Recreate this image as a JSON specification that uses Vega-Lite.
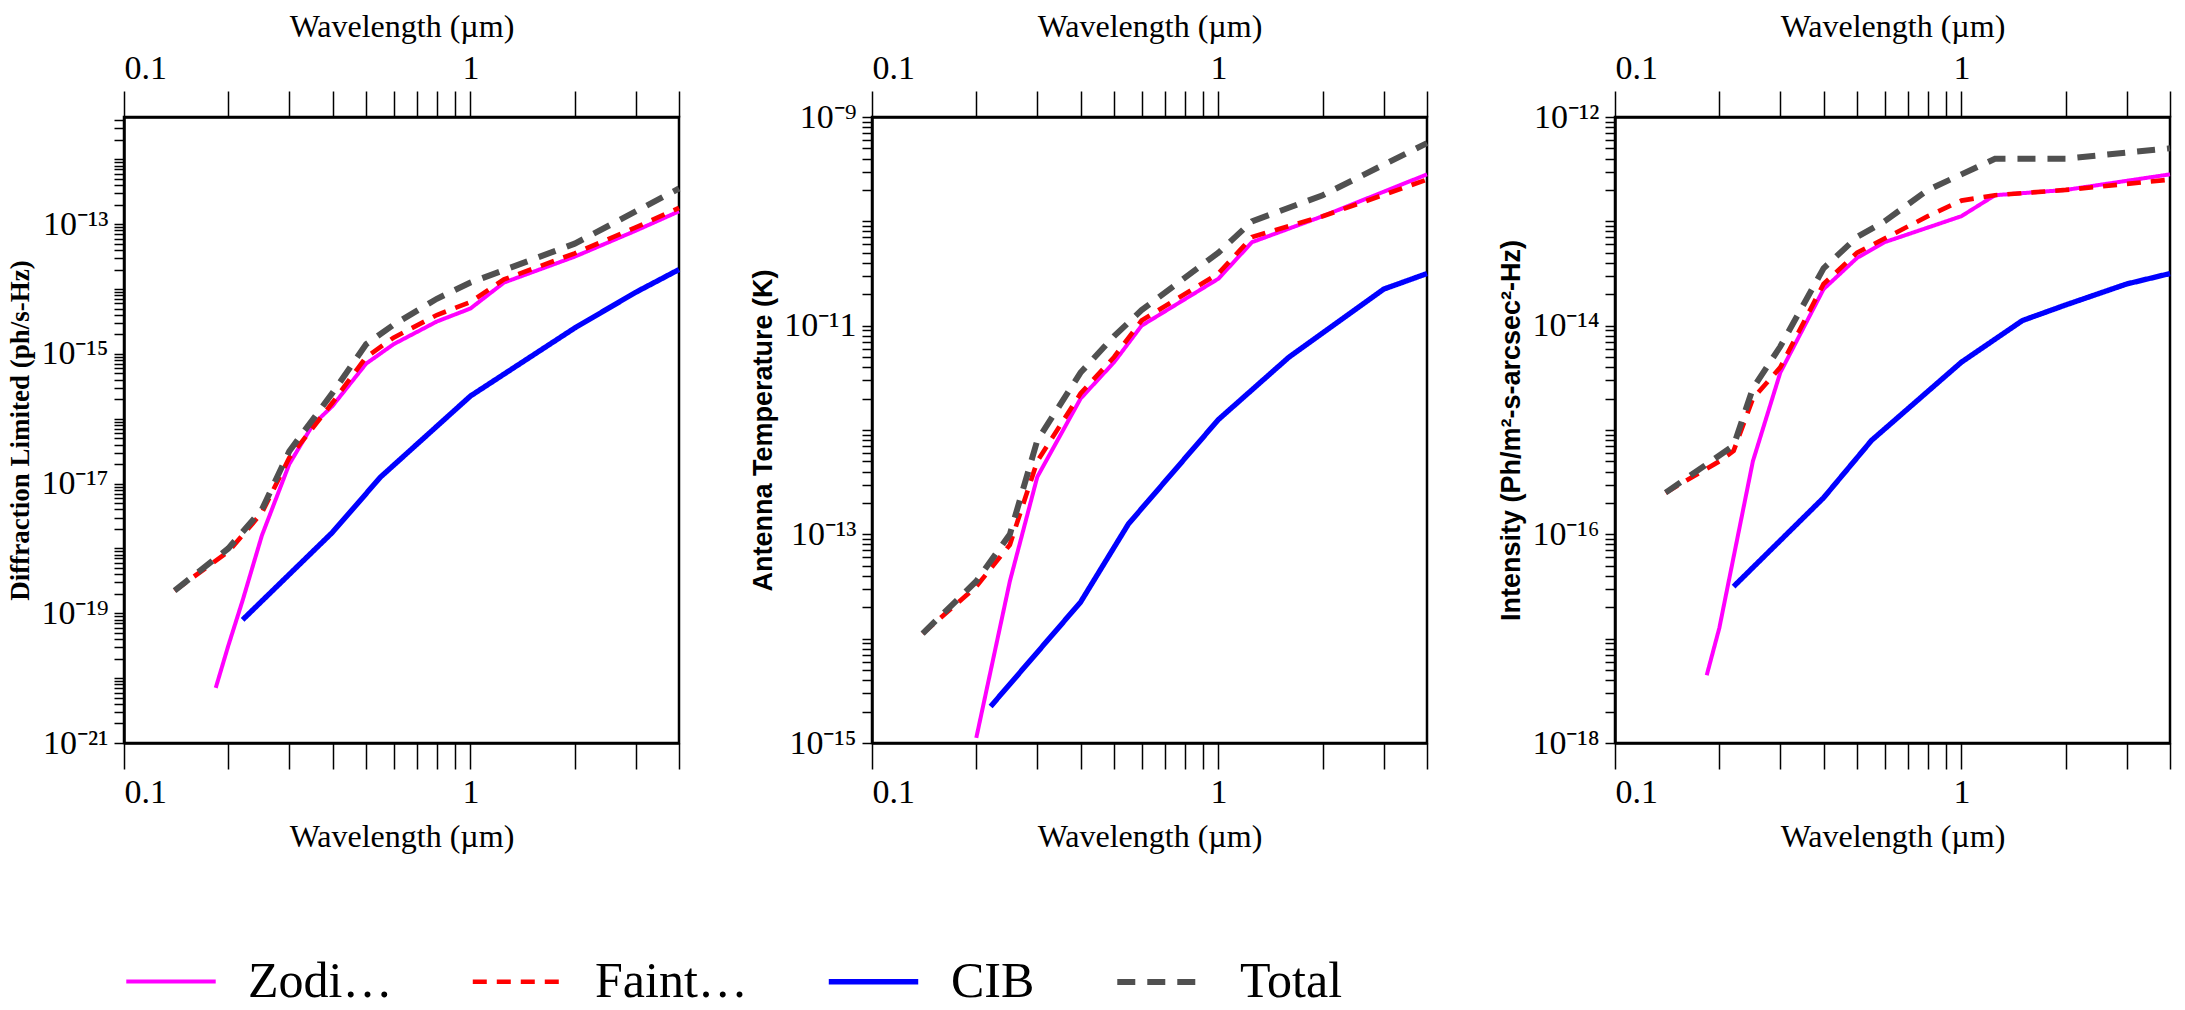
{
  "$schema": "https://vega.github.io/schema/vega-lite/v6.json",
  "background": "white",
  "padding": {"left": 5, "top": 8, "right": 2, "bottom": 5},
  "config": {
    "font": "Liberation Sans Narrow",
    "view": {"stroke": "black", "strokeWidth": 2.5},
    "axis": {"domainColor": "black", "domainWidth": 2.5, "tickColor": "black", "tickWidth": 1.5, "labelFontSize": 34, "labelColor": "black", "titleFontSize": 32, "titleFontWeight": "normal", "titleColor": "black", "grid": false, "tickSize": 26, "labelPadding": 6},
    "legend": {"orient": "bottom", "direction": "horizontal", "labelFontSize": 50, "labelColor": "black", "symbolType": "stroke", "symbolSize": 8000, "symbolStrokeWidth": 6, "columnPadding": 70, "labelOffset": 30, "offset": 80, "padding": 0}
  },
  "datasets": {
    "spec": [
      {"panel": 1, "series": "Zodiacal Emission-90", "wl": 0.184, "v": 7.08e-21},
      {"panel": 1, "series": "Zodiacal Emission-90", "wl": 0.2, "v": 3.16e-20},
      {"panel": 1, "series": "Zodiacal Emission-90", "wl": 0.22, "v": 1.58e-19},
      {"panel": 1, "series": "Zodiacal Emission-90", "wl": 0.25, "v": 1.58e-18},
      {"panel": 1, "series": "Zodiacal Emission-90", "wl": 0.3, "v": 2.0e-17},
      {"panel": 1, "series": "Zodiacal Emission-90", "wl": 0.35, "v": 7.94e-17},
      {"panel": 1, "series": "Zodiacal Emission-90", "wl": 0.4, "v": 1.58e-16},
      {"panel": 1, "series": "Zodiacal Emission-90", "wl": 0.5, "v": 7.08e-16},
      {"panel": 1, "series": "Zodiacal Emission-90", "wl": 0.6, "v": 1.41e-15},
      {"panel": 1, "series": "Zodiacal Emission-90", "wl": 0.8, "v": 3.16e-15},
      {"panel": 1, "series": "Zodiacal Emission-90", "wl": 1.0, "v": 5.01e-15},
      {"panel": 1, "series": "Zodiacal Emission-90", "wl": 1.25, "v": 1.26e-14},
      {"panel": 1, "series": "Zodiacal Emission-90", "wl": 2.0, "v": 3.16e-14},
      {"panel": 1, "series": "Zodiacal Emission-90", "wl": 3.0, "v": 7.94e-14},
      {"panel": 1, "series": "Zodiacal Emission-90", "wl": 4.0, "v": 1.58e-13},
      {"panel": 1, "series": "Faint Stars", "wl": 0.14, "v": 2.24e-19},
      {"panel": 1, "series": "Faint Stars", "wl": 0.2, "v": 8.91e-19},
      {"panel": 1, "series": "Faint Stars", "wl": 0.25, "v": 3.55e-18},
      {"panel": 1, "series": "Faint Stars", "wl": 0.3, "v": 2.51e-17},
      {"panel": 1, "series": "Faint Stars", "wl": 0.4, "v": 1.78e-16},
      {"panel": 1, "series": "Faint Stars", "wl": 0.5, "v": 8.91e-16},
      {"panel": 1, "series": "Faint Stars", "wl": 0.6, "v": 1.78e-15},
      {"panel": 1, "series": "Faint Stars", "wl": 0.8, "v": 3.98e-15},
      {"panel": 1, "series": "Faint Stars", "wl": 1.0, "v": 6.31e-15},
      {"panel": 1, "series": "Faint Stars", "wl": 1.25, "v": 1.41e-14},
      {"panel": 1, "series": "Faint Stars", "wl": 2.0, "v": 3.55e-14},
      {"panel": 1, "series": "Faint Stars", "wl": 3.0, "v": 8.91e-14},
      {"panel": 1, "series": "Faint Stars", "wl": 4.0, "v": 1.78e-13},
      {"panel": 1, "series": "CIB", "wl": 0.22, "v": 7.94e-20},
      {"panel": 1, "series": "CIB", "wl": 0.4, "v": 1.78e-18},
      {"panel": 1, "series": "CIB", "wl": 0.55, "v": 1.26e-17},
      {"panel": 1, "series": "CIB", "wl": 1.0, "v": 2.24e-16},
      {"panel": 1, "series": "CIB", "wl": 2.0, "v": 2.51e-15},
      {"panel": 1, "series": "CIB", "wl": 3.0, "v": 8.91e-15},
      {"panel": 1, "series": "CIB", "wl": 4.0, "v": 2.0e-14},
      {"panel": 1, "series": "Total", "wl": 0.14, "v": 2.24e-19},
      {"panel": 1, "series": "Total", "wl": 0.2, "v": 1.0e-18},
      {"panel": 1, "series": "Total", "wl": 0.25, "v": 3.98e-18},
      {"panel": 1, "series": "Total", "wl": 0.3, "v": 3.16e-17},
      {"panel": 1, "series": "Total", "wl": 0.4, "v": 2.51e-16},
      {"panel": 1, "series": "Total", "wl": 0.5, "v": 1.41e-15},
      {"panel": 1, "series": "Total", "wl": 0.6, "v": 2.82e-15},
      {"panel": 1, "series": "Total", "wl": 0.8, "v": 7.08e-15},
      {"panel": 1, "series": "Total", "wl": 1.0, "v": 1.26e-14},
      {"panel": 1, "series": "Total", "wl": 1.5, "v": 2.82e-14},
      {"panel": 1, "series": "Total", "wl": 2.0, "v": 5.01e-14},
      {"panel": 1, "series": "Total", "wl": 4.0, "v": 3.55e-13},

      {"panel": 2, "series": "Zodiacal Emission-90", "wl": 0.2, "v": 1.12e-15},
      {"panel": 2, "series": "Zodiacal Emission-90", "wl": 0.25, "v": 3.55e-14},
      {"panel": 2, "series": "Zodiacal Emission-90", "wl": 0.3, "v": 3.55e-13},
      {"panel": 2, "series": "Zodiacal Emission-90", "wl": 0.4, "v": 2.0e-12},
      {"panel": 2, "series": "Zodiacal Emission-90", "wl": 0.5, "v": 4.47e-12},
      {"panel": 2, "series": "Zodiacal Emission-90", "wl": 0.6, "v": 1.0e-11},
      {"panel": 2, "series": "Zodiacal Emission-90", "wl": 1.0, "v": 2.82e-11},
      {"panel": 2, "series": "Zodiacal Emission-90", "wl": 1.25, "v": 6.31e-11},
      {"panel": 2, "series": "Zodiacal Emission-90", "wl": 2.0, "v": 1.12e-10},
      {"panel": 2, "series": "Zodiacal Emission-90", "wl": 4.0, "v": 2.82e-10},
      {"panel": 2, "series": "Faint Stars", "wl": 0.14, "v": 1.12e-14},
      {"panel": 2, "series": "Faint Stars", "wl": 0.2, "v": 3.16e-14},
      {"panel": 2, "series": "Faint Stars", "wl": 0.25, "v": 7.94e-14},
      {"panel": 2, "series": "Faint Stars", "wl": 0.3, "v": 5.01e-13},
      {"panel": 2, "series": "Faint Stars", "wl": 0.4, "v": 2.24e-12},
      {"panel": 2, "series": "Faint Stars", "wl": 0.5, "v": 5.01e-12},
      {"panel": 2, "series": "Faint Stars", "wl": 0.6, "v": 1.12e-11},
      {"panel": 2, "series": "Faint Stars", "wl": 1.0, "v": 3.16e-11},
      {"panel": 2, "series": "Faint Stars", "wl": 1.25, "v": 7.08e-11},
      {"panel": 2, "series": "Faint Stars", "wl": 2.0, "v": 1.12e-10},
      {"panel": 2, "series": "Faint Stars", "wl": 4.0, "v": 2.51e-10},
      {"panel": 2, "series": "CIB", "wl": 0.22, "v": 2.24e-15},
      {"panel": 2, "series": "CIB", "wl": 0.4, "v": 2.24e-14},
      {"panel": 2, "series": "CIB", "wl": 0.55, "v": 1.26e-13},
      {"panel": 2, "series": "CIB", "wl": 1.0, "v": 1.26e-12},
      {"panel": 2, "series": "CIB", "wl": 1.6, "v": 5.01e-12},
      {"panel": 2, "series": "CIB", "wl": 3.0, "v": 2.24e-11},
      {"panel": 2, "series": "CIB", "wl": 4.0, "v": 3.16e-11},
      {"panel": 2, "series": "Total", "wl": 0.14, "v": 1.12e-14},
      {"panel": 2, "series": "Total", "wl": 0.2, "v": 3.55e-14},
      {"panel": 2, "series": "Total", "wl": 0.25, "v": 1.0e-13},
      {"panel": 2, "series": "Total", "wl": 0.3, "v": 7.94e-13},
      {"panel": 2, "series": "Total", "wl": 0.4, "v": 3.55e-12},
      {"panel": 2, "series": "Total", "wl": 0.5, "v": 7.94e-12},
      {"panel": 2, "series": "Total", "wl": 0.6, "v": 1.41e-11},
      {"panel": 2, "series": "Total", "wl": 1.0, "v": 5.01e-11},
      {"panel": 2, "series": "Total", "wl": 1.25, "v": 1.0e-10},
      {"panel": 2, "series": "Total", "wl": 2.0, "v": 1.78e-10},
      {"panel": 2, "series": "Total", "wl": 4.0, "v": 5.62e-10},

      {"panel": 3, "series": "Zodiacal Emission-90", "wl": 0.184, "v": 4.47e-18},
      {"panel": 3, "series": "Zodiacal Emission-90", "wl": 0.2, "v": 1.26e-17},
      {"panel": 3, "series": "Zodiacal Emission-90", "wl": 0.25, "v": 5.01e-16},
      {"panel": 3, "series": "Zodiacal Emission-90", "wl": 0.3, "v": 3.55e-15},
      {"panel": 3, "series": "Zodiacal Emission-90", "wl": 0.4, "v": 2.24e-14},
      {"panel": 3, "series": "Zodiacal Emission-90", "wl": 0.5, "v": 4.47e-14},
      {"panel": 3, "series": "Zodiacal Emission-90", "wl": 0.6, "v": 6.31e-14},
      {"panel": 3, "series": "Zodiacal Emission-90", "wl": 1.0, "v": 1.12e-13},
      {"panel": 3, "series": "Zodiacal Emission-90", "wl": 1.25, "v": 1.78e-13},
      {"panel": 3, "series": "Zodiacal Emission-90", "wl": 2.0, "v": 2.0e-13},
      {"panel": 3, "series": "Zodiacal Emission-90", "wl": 4.0, "v": 2.82e-13},
      {"panel": 3, "series": "Faint Stars", "wl": 0.14, "v": 2.51e-16},
      {"panel": 3, "series": "Faint Stars", "wl": 0.2, "v": 5.01e-16},
      {"panel": 3, "series": "Faint Stars", "wl": 0.22, "v": 6.31e-16},
      {"panel": 3, "series": "Faint Stars", "wl": 0.25, "v": 2.0e-15},
      {"panel": 3, "series": "Faint Stars", "wl": 0.3, "v": 3.98e-15},
      {"panel": 3, "series": "Faint Stars", "wl": 0.4, "v": 2.51e-14},
      {"panel": 3, "series": "Faint Stars", "wl": 0.5, "v": 5.01e-14},
      {"panel": 3, "series": "Faint Stars", "wl": 0.8, "v": 1.12e-13},
      {"panel": 3, "series": "Faint Stars", "wl": 1.0, "v": 1.58e-13},
      {"panel": 3, "series": "Faint Stars", "wl": 1.25, "v": 1.78e-13},
      {"panel": 3, "series": "Faint Stars", "wl": 2.0, "v": 2.0e-13},
      {"panel": 3, "series": "Faint Stars", "wl": 4.0, "v": 2.51e-13},
      {"panel": 3, "series": "CIB", "wl": 0.22, "v": 3.16e-17},
      {"panel": 3, "series": "CIB", "wl": 0.4, "v": 2.24e-16},
      {"panel": 3, "series": "CIB", "wl": 0.55, "v": 7.94e-16},
      {"panel": 3, "series": "CIB", "wl": 1.0, "v": 4.47e-15},
      {"panel": 3, "series": "CIB", "wl": 1.5, "v": 1.12e-14},
      {"panel": 3, "series": "CIB", "wl": 2.0, "v": 1.58e-14},
      {"panel": 3, "series": "CIB", "wl": 3.0, "v": 2.51e-14},
      {"panel": 3, "series": "CIB", "wl": 4.0, "v": 3.16e-14},
      {"panel": 3, "series": "Total", "wl": 0.14, "v": 2.51e-16},
      {"panel": 3, "series": "Total", "wl": 0.22, "v": 7.08e-16},
      {"panel": 3, "series": "Total", "wl": 0.25, "v": 2.51e-15},
      {"panel": 3, "series": "Total", "wl": 0.3, "v": 6.31e-15},
      {"panel": 3, "series": "Total", "wl": 0.4, "v": 3.55e-14},
      {"panel": 3, "series": "Total", "wl": 0.5, "v": 7.08e-14},
      {"panel": 3, "series": "Total", "wl": 0.6, "v": 1.0e-13},
      {"panel": 3, "series": "Total", "wl": 0.8, "v": 2.0e-13},
      {"panel": 3, "series": "Total", "wl": 1.0, "v": 2.82e-13},
      {"panel": 3, "series": "Total", "wl": 1.25, "v": 3.98e-13},
      {"panel": 3, "series": "Total", "wl": 2.0, "v": 3.98e-13},
      {"panel": 3, "series": "Total", "wl": 4.0, "v": 5.01e-13}
    ]
  },
  "data": {"name": "spec"},
  "spacing": 55,
  "resolve": {"scale": {"y": "independent"}},
  "hconcat": [
    {
      "width": 555, "height": 626,
      "transform": [{"filter": "datum.panel == 1"}],
      "resolve": {"axis": {"x": "independent"}},
      "layer": [
        {
          "mark": {"type": "line"},
          "encoding": {
            "x": {"field": "wl", "type": "quantitative", "scale": {"type": "log", "domain": [0.1, 4], "nice": false},
              "axis": {"orient": "bottom", "title": "Wavelength (µm)", "values": [0.1,0.2,0.3,0.4,0.5,0.6,0.7,0.8,0.9,1,2,3,4], "labelExpr": "datum.value == 0.1 || datum.value == 1 ? datum.label : ''", "titlePadding": 12}},
            "y": {"field": "v", "type": "quantitative", "scale": {"type": "log", "domain": [1e-21, 4.5e-12], "nice": false},
              "axis": {"title": "Diffraction Limited (ph/s-Hz)", "font": "Liberation Sans", "titleFontWeight": "bold", "titleFontSize": 27, "tickCount": 100, "tickSize": 10, "titlePadding": 6,
                "labelExpr": "abs(log(datum.value)/LN10 - round(log(datum.value)/LN10)) < 0.001 && (round(log(datum.value)/LN10) + 21) % 2 == 0 ? '10' + replace(replace(replace(replace(replace(replace(replace(replace(replace(replace(replace('' + round(log(datum.value)/LN10), '-', '⁻'), '0', '⁰'), '1', '¹'), '2', '²'), '3', '³'), '4', '⁴'), '5', '⁵'), '6', '⁶'), '7', '⁷'), '8', '⁸'), '9', '⁹') : ''"}},
            "color": {"field": "series", "type": "nominal", "sort": ["Zodiacal Emission-90", "Faint Stars", "CIB", "Total"], "scale": {"domain": ["Zodiacal Emission-90", "Faint Stars", "CIB", "Total"], "range": ["#ff00ff", "#ff0000", "#0000ff", "#505050"]}, "legend": {"title": null}},
            "strokeDash": {"field": "series", "type": "nominal", "sort": ["Zodiacal Emission-90", "Faint Stars", "CIB", "Total"], "scale": {"domain": ["Zodiacal Emission-90", "Faint Stars", "CIB", "Total"], "range": [[1, 0], [14, 10], [1, 0], [18, 12]]}, "legend": {"title": null}},
            "strokeWidth": {"field": "series", "type": "nominal", "scale": {"domain": ["Zodiacal Emission-90", "Faint Stars", "CIB", "Total"], "range": [4, 6, 2.5, 5]}, "legend": null}
          }
        },
        {
          "mark": {"type": "point", "opacity": 0},
          "encoding": {
            "x": {"field": "wl", "type": "quantitative", "scale": {"type": "log", "domain": [0.1, 4], "nice": false},
              "axis": {"orient": "top", "title": "Wavelength (µm)", "values": [0.1,0.2,0.3,0.4,0.5,0.6,0.7,0.8,0.9,1,2,3,4], "labelExpr": "datum.value == 0.1 || datum.value == 1 ? datum.label : ''", "titlePadding": 8}},
            "y": {"field": "v", "type": "quantitative"}
          }
        }
      ]
    },
    {
      "width": 555, "height": 626,
      "transform": [{"filter": "datum.panel == 2"}],
      "resolve": {"axis": {"x": "independent"}},
      "layer": [
        {
          "mark": {"type": "line"},
          "encoding": {
            "x": {"field": "wl", "type": "quantitative", "scale": {"type": "log", "domain": [0.1, 4], "nice": false},
              "axis": {"orient": "bottom", "title": "Wavelength (µm)", "values": [0.1,0.2,0.3,0.4,0.5,0.6,0.7,0.8,0.9,1,2,3,4], "labelExpr": "datum.value == 0.1 || datum.value == 1 ? datum.label : ''", "titlePadding": 12}},
            "y": {"field": "v", "type": "quantitative", "scale": {"type": "log", "domain": [1e-15, 1e-9], "nice": false},
              "axis": {"title": "Antenna Temperature (K)", "titleFont": "Liberation Sans", "titleFontWeight": "bold", "titleFontSize": 27, "tickCount": 100, "tickSize": 10, "titlePadding": 6,
                "labelExpr": "abs(log(datum.value)/LN10 - round(log(datum.value)/LN10)) < 0.001 && (round(log(datum.value)/LN10) + 15) % 2 == 0 ? '10' + replace(replace(replace(replace(replace(replace(replace(replace(replace(replace(replace('' + round(log(datum.value)/LN10), '-', '⁻'), '0', '⁰'), '1', '¹'), '2', '²'), '3', '³'), '4', '⁴'), '5', '⁵'), '6', '⁶'), '7', '⁷'), '8', '⁸'), '9', '⁹') : ''"}},
            "color": {"field": "series", "type": "nominal", "sort": ["Zodiacal Emission-90", "Faint Stars", "CIB", "Total"], "scale": {"domain": ["Zodiacal Emission-90", "Faint Stars", "CIB", "Total"], "range": ["#ff00ff", "#ff0000", "#0000ff", "#505050"]}, "legend": {"title": null}},
            "strokeDash": {"field": "series", "type": "nominal", "sort": ["Zodiacal Emission-90", "Faint Stars", "CIB", "Total"], "scale": {"domain": ["Zodiacal Emission-90", "Faint Stars", "CIB", "Total"], "range": [[1, 0], [14, 10], [1, 0], [18, 12]]}, "legend": {"title": null}},
            "strokeWidth": {"field": "series", "type": "nominal", "scale": {"domain": ["Zodiacal Emission-90", "Faint Stars", "CIB", "Total"], "range": [4, 6, 2.5, 5]}, "legend": null}
          }
        },
        {
          "mark": {"type": "point", "opacity": 0},
          "encoding": {
            "x": {"field": "wl", "type": "quantitative", "scale": {"type": "log", "domain": [0.1, 4], "nice": false},
              "axis": {"orient": "top", "title": "Wavelength (µm)", "values": [0.1,0.2,0.3,0.4,0.5,0.6,0.7,0.8,0.9,1,2,3,4], "labelExpr": "datum.value == 0.1 || datum.value == 1 ? datum.label : ''", "titlePadding": 8}},
            "y": {"field": "v", "type": "quantitative"}
          }
        }
      ]
    },
    {
      "width": 555, "height": 626,
      "transform": [{"filter": "datum.panel == 3"}],
      "resolve": {"axis": {"x": "independent"}},
      "layer": [
        {
          "mark": {"type": "line"},
          "encoding": {
            "x": {"field": "wl", "type": "quantitative", "scale": {"type": "log", "domain": [0.1, 4], "nice": false},
              "axis": {"orient": "bottom", "title": "Wavelength (µm)", "values": [0.1,0.2,0.3,0.4,0.5,0.6,0.7,0.8,0.9,1,2,3,4], "labelExpr": "datum.value == 0.1 || datum.value == 1 ? datum.label : ''", "titlePadding": 12}},
            "y": {"field": "v", "type": "quantitative", "scale": {"type": "log", "domain": [1e-18, 1e-12], "nice": false},
              "axis": {"title": "Intensity (Ph/m²-s-arcsec²-Hz)", "titleFont": "Liberation Sans", "titleFontWeight": "bold", "titleFontSize": 27, "tickCount": 100, "tickSize": 10, "titlePadding": 6,
                "labelExpr": "abs(log(datum.value)/LN10 - round(log(datum.value)/LN10)) < 0.001 && (round(log(datum.value)/LN10) + 18) % 2 == 0 ? '10' + replace(replace(replace(replace(replace(replace(replace(replace(replace(replace(replace('' + round(log(datum.value)/LN10), '-', '⁻'), '0', '⁰'), '1', '¹'), '2', '²'), '3', '³'), '4', '⁴'), '5', '⁵'), '6', '⁶'), '7', '⁷'), '8', '⁸'), '9', '⁹') : ''"}},
            "color": {"field": "series", "type": "nominal", "sort": ["Zodiacal Emission-90", "Faint Stars", "CIB", "Total"], "scale": {"domain": ["Zodiacal Emission-90", "Faint Stars", "CIB", "Total"], "range": ["#ff00ff", "#ff0000", "#0000ff", "#505050"]}, "legend": {"title": null}},
            "strokeDash": {"field": "series", "type": "nominal", "sort": ["Zodiacal Emission-90", "Faint Stars", "CIB", "Total"], "scale": {"domain": ["Zodiacal Emission-90", "Faint Stars", "CIB", "Total"], "range": [[1, 0], [14, 10], [1, 0], [18, 12]]}, "legend": {"title": null}},
            "strokeWidth": {"field": "series", "type": "nominal", "scale": {"domain": ["Zodiacal Emission-90", "Faint Stars", "CIB", "Total"], "range": [4, 6, 2.5, 5]}, "legend": null}
          }
        },
        {
          "mark": {"type": "point", "opacity": 0},
          "encoding": {
            "x": {"field": "wl", "type": "quantitative", "scale": {"type": "log", "domain": [0.1, 4], "nice": false},
              "axis": {"orient": "top", "title": "Wavelength (µm)", "values": [0.1,0.2,0.3,0.4,0.5,0.6,0.7,0.8,0.9,1,2,3,4], "labelExpr": "datum.value == 0.1 || datum.value == 1 ? datum.label : ''", "titlePadding": 8}},
            "y": {"field": "v", "type": "quantitative"}
          }
        }
      ]
    }
  ]
}
